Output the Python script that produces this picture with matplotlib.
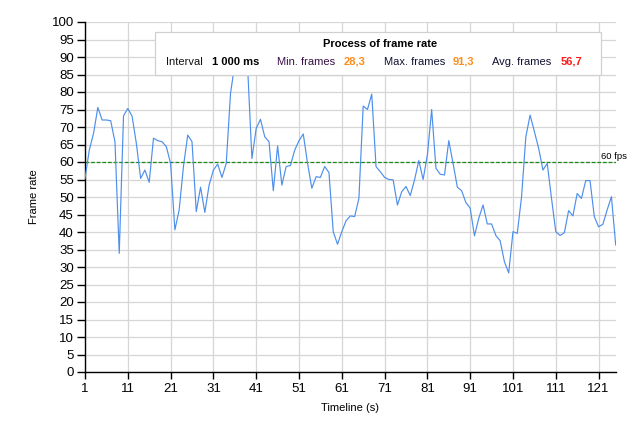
import matplotlib
matplotlib.use("Agg")
import matplotlib.pyplot as plt
from matplotlib.patches import Rectangle
import numpy as np

plt.rcParams['font.family'] = ['Liberation Sans', 'DejaVu Sans']

# ---- data ----
frame_rate = [
    55.3, 63.4, 68.2, 75.6, 72.0, 72.0, 71.8, 65.8, 33.9, 73.2,
    75.3, 73.1, 65.3, 55.3, 57.7, 54.2, 66.8, 66.1, 65.8, 64.4,
    59.6, 40.6, 46.3, 58.7, 67.7, 65.8, 45.8, 52.8, 45.6, 53.4,
    57.7, 59.4, 55.6, 59.6, 79.6, 88.0, 91.3, 89.0, 87.0, 61.0,
    69.6, 72.2, 67.2, 65.8, 51.8, 64.6, 53.4, 58.7, 59.0, 63.4,
    66.1, 68.0, 59.6, 52.5, 55.8, 55.6, 58.7, 57.0, 40.1, 36.5,
    40.1, 43.2, 44.6, 44.4, 49.6, 76.0, 75.0, 79.4, 58.7, 57.2,
    55.6, 55.0, 54.9, 47.7, 51.5, 53.0, 50.4, 54.9, 60.4, 55.0,
    62.0, 75.0, 58.2, 56.5, 56.3, 66.1, 59.6, 52.8, 51.8, 48.4,
    46.8, 38.9, 43.9, 47.7, 42.3, 42.3, 39.0, 37.5, 31.5, 28.3,
    40.1, 39.6, 50.0, 67.2, 73.4, 68.7, 63.9, 57.7, 59.6, 49.6,
    40.1, 39.0, 39.8, 46.1, 44.6, 51.0, 49.6, 54.7, 54.7, 44.4,
    41.5, 42.2, 46.3, 50.1, 36.3,
]
timeline = list(range(1, len(frame_rate) + 1))
x_ticks = list(range(1, 122, 10))
y_ticks = list(range(0, 101, 5))
target_fps = 60
title_text = "Process of frame rate"
interval_text = "1 000 ms"
min_text = "28,3"
max_text = "91,3"
avg_text = "56,7"

W, H = 635, 432
fig = plt.figure(figsize=(W / 100, H / 100), dpi=100)
ax = fig.add_axes([85 / W, 1 - 372 / H, (615.7 - 85) / W, (372 - 22) / H])

ax.plot(timeline, frame_rate, color='#4d8fec', lw=0.85, zorder=3)
ax.axhline(target_fps, color='#1a8a1a', lw=0.9, ls=(0, (3, 1.5)), zorder=2)

ax.set_xlim(1, 125)
ax.set_ylim(0, 100)
ax.set_xticks(x_ticks)
ax.set_yticks(y_ticks)
ax.grid(True, color='#d6d6d6', lw=0.9, zorder=0)
ax.set_axisbelow(True)
for s in ['top', 'right']:
    ax.spines[s].set_visible(False)
for s in ['left', 'bottom']:
    ax.spines[s].set_color('black')
    ax.spines[s].set_linewidth(1.0)
ax.tick_params(axis='y', length=6, width=1, pad=2, labelsize=9.5, colors='black')
ax.tick_params(axis='x', length=5, width=1, pad=3, labelsize=9.5, colors='black')

def fx(px):
    return px / W

def fy(py):
    return 1 - py / H

fig.text(fx(601), fy(159), "60 fps", fontsize=6.8, ha='left', va='baseline', zorder=4)

fig.text(fx(34), fy(197), "Frame rate", rotation=90, ha='center', va='center', fontsize=8)
fig.text(fx(350), fy(408), "Timeline (s)", ha='center', va='center', fontsize=8)

# info box
box = Rectangle((fx(155), fy(75)), (601 - 155) / W, (75 - 32) / H, transform=fig.transFigure,
                facecolor='white', edgecolor='#d0d0d0', lw=0.9, zorder=10)
fig.patches.append(box)

fig.text(fx(380), fy(44), title_text, ha='center', va='center', fontsize=8,
         fontweight='bold', zorder=11)
row_y = fy(62)
fig.text(fx(166), row_y, "Interval", ha='left', va='center', fontsize=8, color='#111111', zorder=11)
fig.text(fx(212.5), row_y, interval_text, ha='left', va='center', fontsize=8, fontweight='bold', zorder=11)
fig.text(fx(277), row_y, "Min. frames", ha='left', va='center', fontsize=8, color='#3a1048', zorder=11)
fig.text(fx(344), row_y, min_text, ha='left', va='center', fontsize=8, fontweight='bold', color='#ff8c1a', zorder=11)
fig.text(fx(383.5), row_y, "Max. frames", ha='left', va='center', fontsize=8, color='#111133', zorder=11)
fig.text(fx(452.5), row_y, max_text, ha='left', va='center', fontsize=8, fontweight='bold', color='#ff8c1a', zorder=11)
fig.text(fx(492), row_y, "Avg. frames", ha='left', va='center', fontsize=8, color='#111133', zorder=11)
fig.text(fx(560.5), row_y, avg_text, ha='left', va='center', fontsize=8, fontweight='bold', color='#ff1a1a', zorder=11)

fig.savefig("out.png", dpi=100, facecolor='white')
